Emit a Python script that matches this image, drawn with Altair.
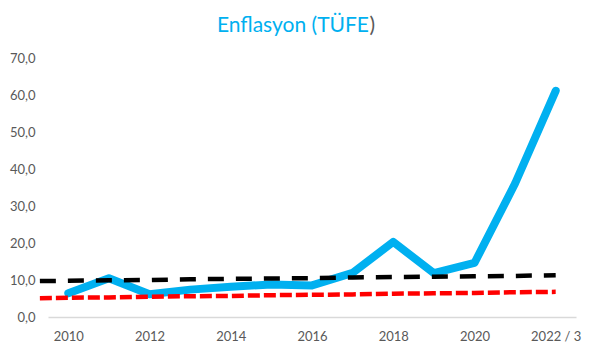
import altair as alt
import pandas as pd

# ---- data ----
labels = ["2010", "2011", "2012", "2013", "2014", "2015", "2016",
          "2017", "2018", "2019", "2020", "2021", "2022 / 3"]
tufe = [6.40, 10.45, 6.16, 7.40, 8.17, 8.81, 8.53,
        11.92, 20.30, 11.84, 14.60, 36.08, 61.14]
trend_pos = [-0.7, 0, 1, 2, 3, 4, 5, 6, 7, 8, 9, 10, 11, 12]
black_trend = [9.7, 9.8, 9.9, 10.0, 10.2, 10.3, 10.4, 10.5,
               10.7, 10.8, 10.9, 11.0, 11.1, 11.3]
red_trend = [5.1, 5.2, 5.3, 5.5, 5.6, 5.7, 5.9, 6.0,
             6.1, 6.3, 6.4, 6.5, 6.7, 6.8]
y_ticks = [0, 10, 20, 30, 40, 50, 60, 70]
title_main = "Enflasyon (TÜFE"
title_close = ")"

main_df = pd.DataFrame({"i": list(range(len(labels))), "v": tufe})
trend_df = pd.DataFrame({"i": trend_pos, "black": black_trend, "red": red_trend})

label_array = "[" + ",".join("'" + l + "'" for l in labels) + "]"

FONT = "Lato"
LABEL_COLOR = "#595959"

x_scale = alt.Scale(domain=[-0.5, len(labels) - 0.5], nice=False, zero=False)
y_scale = alt.Scale(domain=[0, 70], nice=False)

x_axis = alt.Axis(
    values=list(range(0, len(labels), 2)),
    labelExpr=label_array + "[datum.value]",
    title=None, ticks=False, grid=False,
    domainColor="#D9D9D9", domainWidth=1.3,
    labelColor=LABEL_COLOR, labelFont=FONT, labelFontSize=13,
    labelPadding=13, labelOverlap=False,
)
y_axis = alt.Axis(
    values=y_ticks, tickCount=len(y_ticks),
    labelExpr="replace(format(datum.value, '.1f'), '.', ',')",
    title=None, ticks=False, grid=False, domain=False,
    labelColor=LABEL_COLOR, labelFont=FONT, labelFontSize=13,
    labelPadding=13, labelOverlap=False, labelFlush=False,
)

blue = alt.Chart(main_df).mark_line(
    color="#00B0F0", strokeWidth=8, strokeCap="round", strokeJoin="round"
).encode(
    x=alt.X("i:Q", scale=x_scale, axis=x_axis),
    y=alt.Y("v:Q", scale=y_scale, axis=y_axis),
)

black = alt.Chart(trend_df).mark_line(
    color="#000000", strokeWidth=4.5, strokeDash=[16, 12], clip=False
).encode(
    x=alt.X("i:Q", scale=x_scale, axis=x_axis),
    y=alt.Y("black:Q", scale=y_scale, axis=y_axis),
)

red = alt.Chart(trend_df).mark_line(
    color="#FF0000", strokeWidth=4.5, strokeDash=[12, 4], clip=False
).encode(
    x=alt.X("i:Q", scale=x_scale, axis=x_axis),
    y=alt.Y("red:Q", scale=y_scale, axis=y_axis),
)

title_df = pd.DataFrame({"main": [title_main], "close": [title_close]})
title_blue = alt.Chart(title_df).mark_text(
    align="right", baseline="alphabetic", font=FONT, fontSize=21,
    fontWeight="normal", color="#00B0F0"
).encode(x=alt.value(321), y=alt.value(-26), text="main:N")
title_gray = alt.Chart(title_df).mark_text(
    align="left", baseline="alphabetic", font=FONT, fontSize=21,
    fontWeight="normal", color=LABEL_COLOR
).encode(x=alt.value(321.5), y=alt.value(-26), text="close:N")

chart = alt.layer(blue, black, red, title_blue, title_gray).properties(
    width=528, height=259,
    autosize=alt.AutoSizeParams(type="none"),
    padding={"left": 48, "top": 58, "right": 18, "bottom": 36},
    background="white",
).configure_view(stroke=None)

chart.save("out.html", embed_options={"renderer": "svg", "actions": False})
